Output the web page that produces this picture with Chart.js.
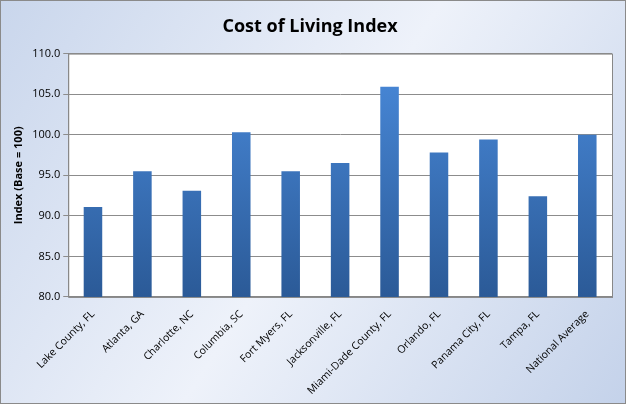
<!DOCTYPE html>
<html>
<head>
<script src="https://cdn.jsdelivr.net/npm/chart.js@4"></script>
<style>
body { margin: 0; }
#wrap { width: 626px; height: 404px; }
</style>
</head>
<body>
<div id="wrap"><canvas id="c" width="626" height="404"></canvas></div>
<script>
var categories = ['Lake County, FL', 'Atlanta, GA', 'Charlotte, NC', 'Columbia, SC', 'Fort Myers, FL',
    'Jacksonville, FL', 'Miami-Dade County, FL', 'Orlando, FL', 'Panama City, FL', 'Tampa, FL', 'National Average'];
var costIndex = [91.1, 95.5, 93.1, 100.3, 95.5, 96.5, 105.9, 97.8, 99.4, 92.4, 100.0];

// Background gradient + plot frame
var bgPlugin = {
    id: 'bg',
    beforeDraw: function(chart) {
        var ctx = chart.ctx;
        var g = ctx.createLinearGradient(0, 0, chart.width, chart.height);
        g.addColorStop(0, '#c9d6ec');
        g.addColorStop(0.5, '#eef2fa');
        g.addColorStop(1, '#c4d2ea');
        ctx.save();
        ctx.fillStyle = g;
        ctx.fillRect(0, 0, chart.width, chart.height);
        ctx.strokeStyle = '#8a8a8a';
        ctx.strokeRect(0.5, 0.5, chart.width - 1, chart.height - 1);
        var a = chart.chartArea;
        ctx.fillStyle = '#ffffff';
        ctx.fillRect(a.left, a.top, a.right - a.left, a.bottom - a.top);
        ctx.restore();
    },
    afterDraw: function(chart) {
        var a = chart.chartArea, ctx = chart.ctx;
        ctx.save();
        ctx.strokeStyle = '#888';
        ctx.strokeRect(a.left + 0.5, a.top + 0.5, a.right - a.left, a.bottom - a.top);
        ctx.restore();
    }
};

function barFill(context) {
    var chart = context.chart, a = chart.chartArea;
    if (!a) return '#3d77c4';
    var g = chart.ctx.createLinearGradient(0, a.top, 0, a.bottom);
    g.addColorStop(0, '#4a8bdc');
    g.addColorStop(1, '#2b5a97');
    return g;
}

new Chart(document.getElementById('c'), {
    type: 'bar',
    data: {
        labels: categories,
        datasets: [{
            data: costIndex,
            backgroundColor: barFill,
            barPercentage: 0.75,
            categoryPercentage: 0.5
        }]
    },
    plugins: [bgPlugin],
    options: {
        responsive: false,
        animation: false,
        layout: { padding: { left: 8, right: 14, top: 0, bottom: 4 } },
        plugins: {
            legend: { display: false },
            tooltip: { enabled: false },
            title: {
                display: true,
                text: 'Cost of Living Index',
                color: '#000',
                font: { family: 'Open Sans', size: 18, weight: 'bold' },
                padding: { top: 16, bottom: 16 }
            }
        },
        scales: {
            x: {
                grid: { display: false },
                border: { color: '#888' },
                ticks: {
                    color: '#000', maxRotation: 45, minRotation: 45,
                    font: { family: 'Open Sans', size: 10.5 }
                }
            },
            y: {
                min: 80, max: 110,
                border: { color: '#888' },
                grid: { color: '#8c8c8c', tickLength: 5 },
                title: {
                    display: true, text: 'Index (Base = 100)', color: '#000',
                    font: { family: 'Open Sans', size: 11, weight: 'bold' }
                },
                ticks: {
                    stepSize: 5, color: '#000',
                    font: { family: 'Open Sans', size: 11 },
                    callback: function(v) { return v.toFixed(1); }
                }
            }
        }
    }
});
</script>
</body>
</html>
